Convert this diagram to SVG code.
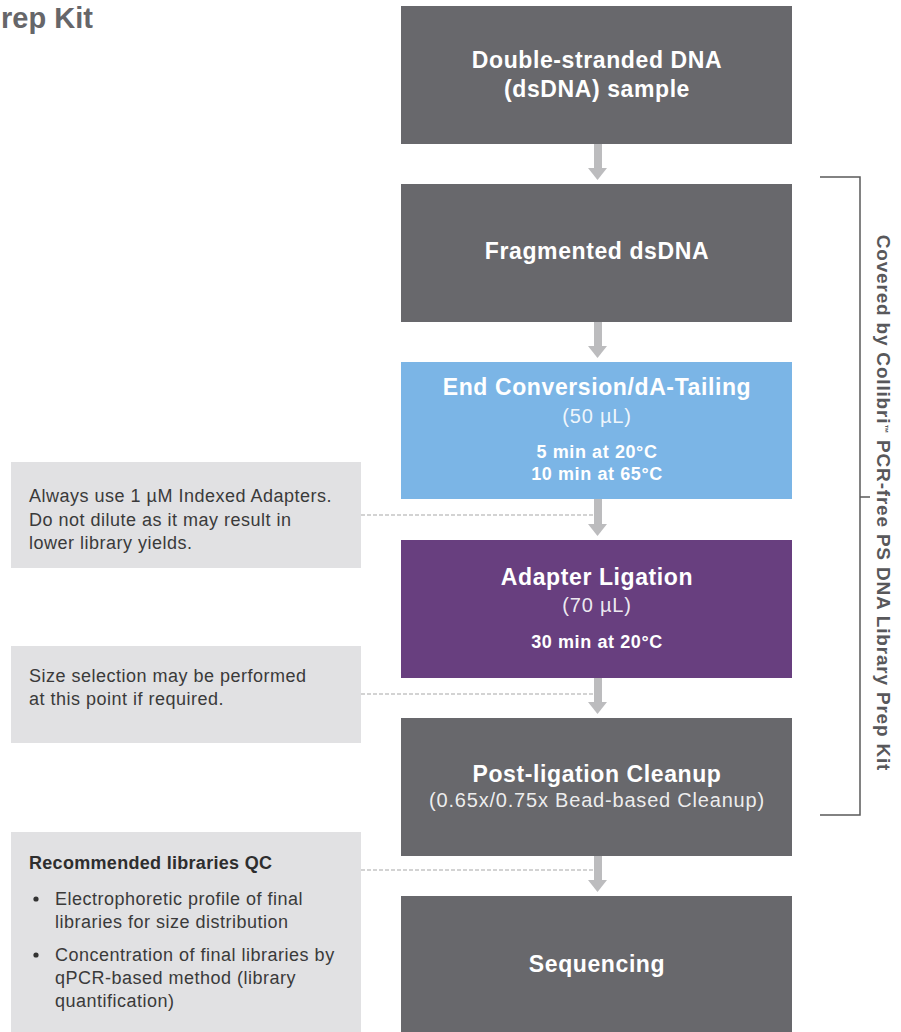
<svg xmlns="http://www.w3.org/2000/svg" width="901" height="1032" viewBox="0 0 901 1032">
  <style>
    text { font-family: "Liberation Sans", Arial, Helvetica, sans-serif; }
    .step { fill: #68686c; }
    .blue { fill: #7bb5e6; }
    .purple { fill: #683f7f; }
    .note { fill: #e1e1e3; }
    .title { font-size: 23px; font-weight: bold; fill: #ffffff; letter-spacing: 0.6px; text-anchor: middle; }
    .vol { font-size: 20px; fill: #ffffff; fill-opacity: 0.9; letter-spacing: 0.8px; text-anchor: middle; }
    .cond { font-size: 18px; font-weight: bold; fill: #ffffff; letter-spacing: 0.6px; text-anchor: middle; }
    .ntext { font-size: 18px; fill: #3a3a3a; letter-spacing: 0.5px; }
    .nhead { font-size: 18px; font-weight: bold; fill: #2e2e2e; letter-spacing: 0.3px; }
    .arrow { fill: #bcbcbe; }
    .dash { stroke: #a8a8a8; stroke-width: 1.2; stroke-dasharray: 4 2; fill: none; }
    .bracket { stroke: #5a5a5a; stroke-width: 1.5; fill: none; }
  </style>

  <!-- heading fragment at top-left -->
  <text x="1" y="28" font-size="29" font-weight="bold" fill="#666669">rep Kit</text>

  <!-- workflow steps -->
  <g id="step-sample">
    <rect class="step" x="401" y="6" width="391" height="138"/>
    <text class="title" x="597" y="68">Double-stranded DNA</text>
    <text class="title" x="597" y="97">(dsDNA) sample</text>
  </g>

  <g id="step-fragmented">
    <rect class="step" x="401" y="184" width="391" height="138"/>
    <text class="title" x="597" y="259">Fragmented dsDNA</text>
  </g>

  <g id="step-end-conversion">
    <rect class="blue" x="401" y="362" width="391" height="137"/>
    <text class="title" x="597" y="395">End Conversion/dA-Tailing</text>
    <text class="vol" x="597" y="423">(50 µL)</text>
    <text class="cond" x="597" y="458">5 min at 20°C</text>
    <text class="cond" x="597" y="480">10 min at 65°C</text>
  </g>

  <g id="step-ligation">
    <rect class="purple" x="401" y="540" width="391" height="138"/>
    <text class="title" x="597" y="585">Adapter Ligation</text>
    <text class="vol" x="597" y="612">(70 µL)</text>
    <text class="cond" x="597" y="648">30 min at 20°C</text>
  </g>

  <g id="step-cleanup">
    <rect class="step" x="401" y="718" width="391" height="138"/>
    <text class="title" x="597" y="782">Post-ligation Cleanup</text>
    <text class="vol" x="597" y="807">(0.65x/0.75x Bead-based Cleanup)</text>
  </g>

  <g id="step-sequencing">
    <rect class="step" x="401" y="896" width="391" height="140"/>
    <text class="title" x="597" y="972">Sequencing</text>
  </g>

  <!-- side notes -->
  <g id="note-adapters">
    <rect class="note" x="11" y="462" width="350" height="106"/>
    <text class="ntext" x="29" y="502">Always use 1 µM Indexed Adapters.</text>
    <text class="ntext" x="29" y="526">Do not dilute as it may result in</text>
    <text class="ntext" x="29" y="549">lower library yields.</text>
  </g>

  <g id="note-size-selection">
    <rect class="note" x="11" y="646" width="350" height="97"/>
    <text class="ntext" x="29" y="682">Size selection may be performed</text>
    <text class="ntext" x="29" y="705">at this point if required.</text>
  </g>

  <g id="note-qc">
    <rect class="note" x="11" y="832" width="350" height="204"/>
    <text class="nhead" x="29" y="869">Recommended libraries QC</text>
    <circle cx="36" cy="899" r="2.6" fill="#333"/>
    <text class="ntext" x="55" y="905">Electrophoretic profile of final</text>
    <text class="ntext" x="55" y="928">libraries for size distribution</text>
    <circle cx="36" cy="955" r="2.6" fill="#333"/>
    <text class="ntext" x="55" y="961">Concentration of final libraries by</text>
    <text class="ntext" x="55" y="984">qPCR-based method (library</text>
    <text class="ntext" x="55" y="1007">quantification)</text>
  </g>

  <!-- connectors -->
  <g id="connectors">
    <g class="arrow">
      <rect x="594" y="144" width="8" height="25"/>
      <polygon points="588,168 607,168 597.5,180"/>
      <rect x="594" y="322" width="8" height="25"/>
      <polygon points="588,346 607,346 597.5,358"/>
      <rect x="594" y="499" width="8" height="26"/>
      <polygon points="588,524 607,524 597.5,536"/>
      <rect x="594" y="678" width="8" height="25"/>
      <polygon points="588,702 607,702 597.5,714"/>
      <rect x="594" y="856" width="8" height="25"/>
      <polygon points="588,880 607,880 597.5,892"/>
    </g>
    <line class="dash" x1="361" y1="515" x2="593" y2="515"/>
    <line class="dash" x1="361" y1="694" x2="593" y2="694"/>
    <line class="dash" x1="361" y1="870" x2="593" y2="870"/>
  </g>

  <!-- kit coverage bracket -->
  <g id="kit-bracket">
    <path class="bracket" d="M820,177 H860 V815 H820 M860,497 H870"/>
    <text transform="translate(877,503) rotate(90)" text-anchor="middle" font-size="19" font-weight="bold" fill="#58585b" letter-spacing="0.8">Covered by Collibri<tspan font-size="9" baseline-shift="super">™</tspan> PCR-free PS DNA Library Prep Kit</text>
  </g>
</svg>
